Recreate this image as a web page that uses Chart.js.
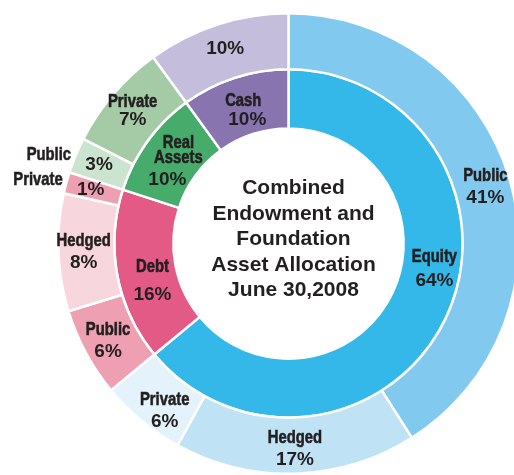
<!DOCTYPE html>
<html>
<head>
<meta charset="utf-8">
<script src="https://cdn.jsdelivr.net/npm/chart.js@4.4.1/dist/chart.umd.min.js"></script>
<style>
  html, body { margin: 0; padding: 0; background: #fff; overflow: hidden; }
  #wrap { width: 520px; height: 475px; }
</style>
</head>
<body>
<div id="wrap"><canvas id="chart" width="520" height="475"></canvas></div>
<script>
// inner ring: asset classes
const innerNames = ['Equity', 'Debt', 'Real Assets', 'Cash'];
const innerValues = [64, 16, 10, 10];
const innerColors = ['#33b8e9', '#e35a86', '#47ab6b', '#8874ae'];

// outer ring: sub-classes (arc sizes, printed % kept apart)
const outerNames = ['Public', 'Hedged', 'Private', 'Public', 'Hedged', 'Private', 'Public', 'Private', ''];
const outerValues = [41, 17, 6, 6.25, 8.25, 1.5, 2.5, 7.5, 10];
const outerPercents = ['41%', '17%', '6%', '6%', '8%', '1%', '3%', '7%', '10%'];
const outerColors = ['#82c9f0', '#bfe2f5', '#e3f2fb', '#ee9fb2', '#f8d6dd', '#ee9fb2', '#cbe4cf', '#a4cba6', '#c4bddc'];

const titleLines = ['Combined', 'Endowment and', 'Foundation', 'Asset Allocation', 'June 30,2008'];

const INK = '#231f20';

function drawWord(ctx, text, x, y, align) {
    ctx.save();
    ctx.font = 'bold 19px "Liberation Sans", Arial, sans-serif';
    ctx.translate(x, y);
    ctx.scale(0.78, 1); // condensed look
    ctx.textAlign = align || 'center';
    ctx.lineWidth = 0.6;
    ctx.strokeStyle = INK;
    ctx.fillText(text, 0, 0);
    ctx.strokeText(text, 0, 0);
    ctx.restore();
}

function drawNum(ctx, text, x, y) {
    ctx.font = 'bold 19px "Liberation Sans", Arial, sans-serif';
    ctx.textAlign = 'center';
    ctx.fillText(text, x, y);
}

// point inside an arc: frac along the angle, rFrac across the ring
function arcPoint(arc, frac, rFrac) {
    const p = arc.getProps(['x', 'y', 'startAngle', 'endAngle', 'innerRadius', 'outerRadius'], true);
    const a = p.startAngle + (p.endAngle - p.startAngle) * frac;
    const r = p.innerRadius + (p.outerRadius - p.innerRadius) * rFrac;
    return { x: p.x + Math.cos(a) * r, y: p.y + Math.sin(a) * r, cx: p.x, cy: p.y };
}

const labelPlugin = {
    id: 'ringLabels',
    afterDraw(chart) {
        const ctx = chart.ctx;
        ctx.save();
        ctx.fillStyle = INK;
        ctx.textBaseline = 'middle';

        // outer ring
        const outerArcs = chart.getDatasetMeta(0).data;
        outerArcs.forEach(function(arc, i) {
            const name = outerNames[i];
            const pct = outerPercents[i];
            if (i === 5 || i === 6) {
                // thin slices: name sits outside to the left
                const pt = arcPoint(arc, 0.5, 0.55);
                drawNum(ctx, pct, pt.x, pt.y);
                drawWord(ctx, name, pt.x - 28, pt.y - 10, 'right');
                return;
            }
            const pt = i === 2 ? arcPoint(arc, 0.36, 0.6) : arcPoint(arc, 0.5, 0.55);
            if (!name) {
                drawNum(ctx, pct, pt.x, pt.y);
                return;
            }
            const gap = i === 7 ? 9 : 11;
            drawWord(ctx, name, pt.x, pt.y - gap);
            drawNum(ctx, pct, pt.x, pt.y + gap);
        });

        // inner ring
        const innerArcs = chart.getDatasetMeta(1).data;
        let pt = arcPoint(innerArcs[0], 0.434, 0.56);
        drawWord(ctx, innerNames[0], pt.x, pt.y - 12);
        drawNum(ctx, innerValues[0] + '%', pt.x, pt.y + 12);

        pt = arcPoint(innerArcs[1], 0.42, 0.44);
        drawWord(ctx, innerNames[1], pt.x, pt.y - 14);
        drawNum(ctx, innerValues[1] + '%', pt.x, pt.y + 14);

        pt = arcPoint(innerArcs[2], 0.5, 0.44);
        const ra = innerNames[2].split(' ');
        drawWord(ctx, ra[0], pt.x + 4, pt.y - 18);
        drawWord(ctx, ra[1], pt.x + 4, pt.y - 3);
        drawNum(ctx, innerValues[2] + '%', pt.x - 7, pt.y + 19);

        pt = arcPoint(innerArcs[3], 0.5, 0.42);
        drawWord(ctx, innerNames[3], pt.x - 2, pt.y - 10);
        drawNum(ctx, innerValues[3] + '%', pt.x + 2, pt.y + 9);

        // title in the hole
        const c = arcPoint(innerArcs[0], 0, 0);
        ctx.font = 'bold 21px "Liberation Sans", Arial, sans-serif';
        ctx.textAlign = 'center';
        titleLines.forEach(function(line, k) {
            ctx.fillText(line, c.cx + 5, c.cy - 4 + (k - 2) * 25.5);
        });
        ctx.restore();
    }
};

const ctx = document.getElementById('chart').getContext('2d');
const myChart = new Chart(ctx, {
    type: 'doughnut',
    data: {
        labels: outerNames,
        datasets: [{
            data: outerValues,
            backgroundColor: outerColors,
            borderColor: '#ffffff',
            borderWidth: 2.5,
            weight: 0.95
        }, {
            data: innerValues,
            backgroundColor: innerColors,
            borderColor: '#ffffff',
            borderWidth: 2.5,
            weight: 1
        }]
    },
    options: {
        responsive: false,
        animation: false,
        cutout: '50%',
        hoverOffset: 0,
        layout: { padding: { left: 57, right: 0, top: 12, bottom: 0 } },
        plugins: {
            legend: { display: false },
            tooltip: { enabled: false }
        }
    },
    plugins: [labelPlugin]
});
</script>
</body>
</html>
